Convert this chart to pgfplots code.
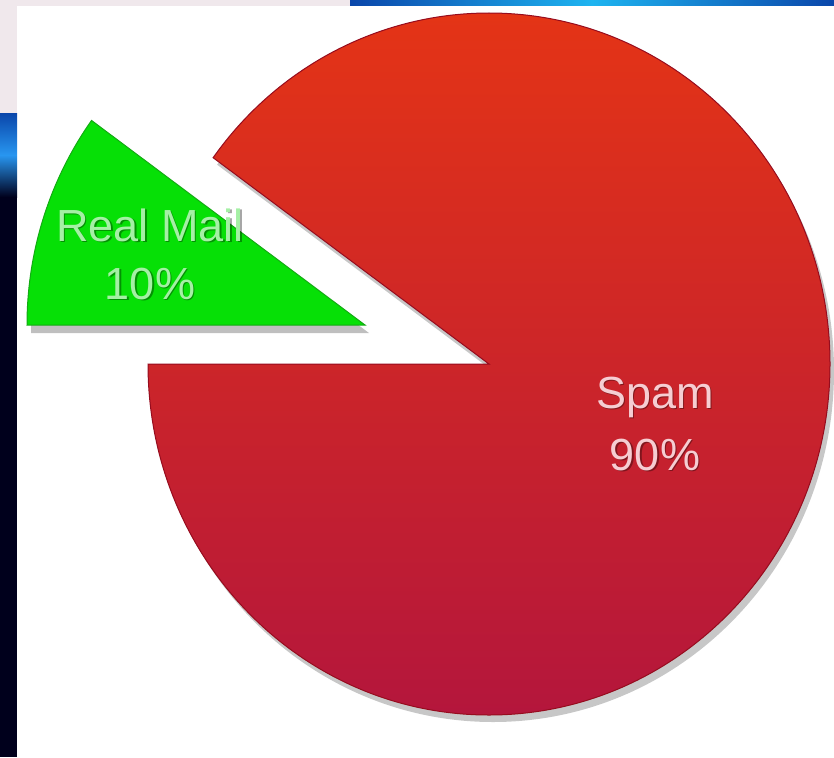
\documentclass[border=0pt]{standalone}
\usepackage{pgfplots}
\pgfplotsset{compat=1.18}
\usepackage{fontspec}
\setmainfont{Liberation Sans}
\usetikzlibrary{shadows}

\definecolor{redtop}{RGB}{228,52,22}
\definecolor{redbot}{RGB}{180,22,60}
\definecolor{reddark}{RGB}{150,12,30}
\definecolor{mailgreen}{RGB}{6,224,6}
\definecolor{greendark}{RGB}{20,170,20}
\definecolor{lblgreen}{RGB}{165,240,165}
\definecolor{lblred}{RGB}{246,205,210}
\definecolor{navy}{RGB}{0,0,28}
\definecolor{bgblue}{RGB}{10,70,170}
\definecolor{bglight}{RGB}{240,232,236}

% data (percent)
\def\spamval{90}
\def\realval{10}
\pgfmathsetmacro{\spamEnd}{180+3.6*\spamval}
\pgfmathsetmacro{\realStart}{180-3.6*\realval}

\begin{document}%
\begin{tikzpicture}
\begin{axis}[
  width=417pt, height=378.5pt, scale only axis,
  xmin=0, xmax=834, ymin=0, ymax=757,
  hide axis, clip=false]
% background strips
\fill[bglight] (axis cs:0,644) rectangle (axis cs:17,757);
\fill[bglight] (axis cs:17,751) rectangle (axis cs:350,757);
\shade[top color=bgblue, bottom color=navy, middle color={rgb,255:red,40;green,150;blue,240}] (axis cs:0,560) rectangle (axis cs:17,644);
\fill[navy] (axis cs:0,0) rectangle (axis cs:17,560);
\shade[left color=bgblue, right color=bgblue, middle color={rgb,255:red,30;green,180;blue,240}] (axis cs:350,751) rectangle (axis cs:834,757);
% Spam sector
\shadedraw[top color=redtop, bottom color=redbot, draw=reddark, line width=0.5pt,
  drop shadow={shadow xshift=2pt, shadow yshift=-3.5pt, opacity=0.22, fill=black}]
  (axis cs:489,393) -- ++(180:170.5pt and 175.5pt)
  arc[start angle=180, end angle=\spamEnd, x radius=170.5pt, y radius=175.5pt] -- cycle;
% Real Mail sector (exploded)
\filldraw[fill=mailgreen, draw=greendark, line width=0.5pt,
  drop shadow={shadow xshift=2pt, shadow yshift=-4pt, opacity=0.25, fill=black}]
  (axis cs:365,432) -- ++(\realStart:169pt and 174pt)
  arc[start angle=\realStart, end angle=180, x radius=169pt, y radius=174pt] -- cycle;
% labels
\node[font=\fontsize{22.5}{29}\selectfont, text=black, opacity=0.35, align=center]
  at (axis cs:151.5,501.5) {Real Mail\\10\%};
\node[font=\fontsize{22.5}{29}\selectfont, text=lblgreen, align=center]
  at (axis cs:150,503) {Real Mail\\10\%};
\node[font=\fontsize{22.5}{31}\selectfont, text=black, opacity=0.35, align=center]
  at (axis cs:656.5,331.5) {Spam\\90\%};
\node[font=\fontsize{22.5}{31}\selectfont, text=lblred, align=center]
  at (axis cs:655,333) {Spam\\90\%};
\end{axis}
\pgfresetboundingbox
\path[use as bounding box] (current axis.south west) rectangle (current axis.north east);
\end{tikzpicture}%
\end{document}
